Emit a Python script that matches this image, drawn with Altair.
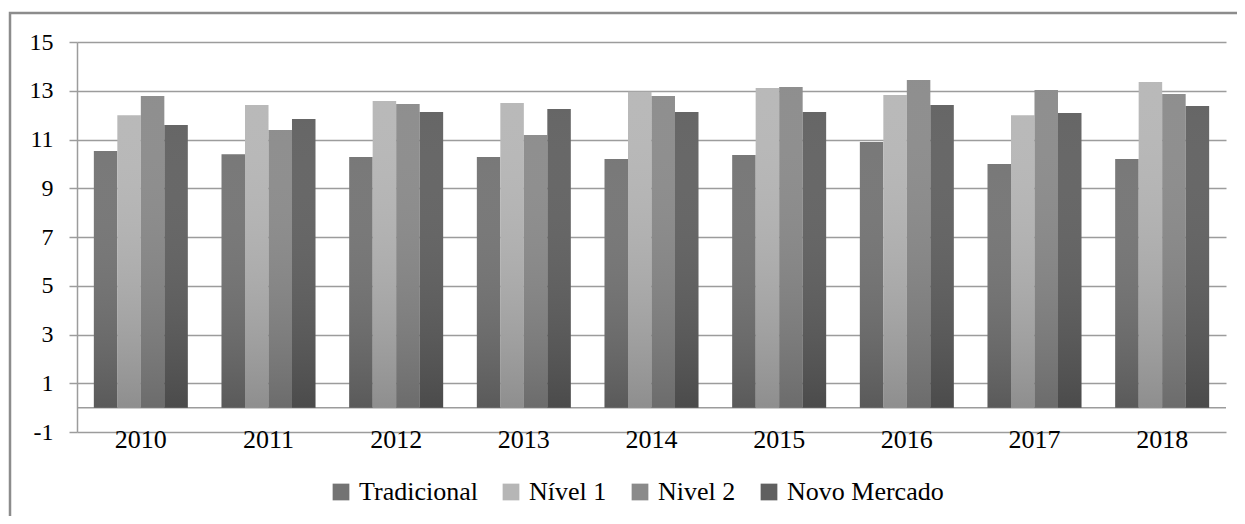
import altair as alt
import pandas as pd

years = ["2010", "2011", "2012", "2013", "2014", "2015", "2016", "2017", "2018"]
series = ["Tradicional", "Nível 1", "Nivel 2", "Novo Mercado"]
tradicional = [10.53, 10.40, 10.28, 10.28, 10.20, 10.36, 10.90, 10.00, 10.20]
nivel1 = [12.00, 12.42, 12.58, 12.50, 12.96, 13.11, 12.83, 12.00, 13.36]
nivel2 = [12.78, 11.39, 12.46, 11.18, 12.78, 13.15, 13.44, 13.03, 12.87]
novo_mercado = [11.60, 11.84, 12.13, 12.25, 12.13, 12.13, 12.42, 12.09, 12.37]
y_ticks = [-1, 1, 3, 5, 7, 9, 11, 13, 15]
colors = ["#737373", "#b6b6b6", "#8a8a8a", "#606060"]

rows = []
for name, vals in zip(series, [tradicional, nivel1, nivel2, novo_mercado]):
    for yr, v in zip(years, vals):
        rows.append({"year": yr, "series": name, "value": v})
df = pd.DataFrame(rows)

FONT = "Liberation Serif, Times New Roman, serif"
GRID = "#9c9c9c"

x_enc = alt.X(
    "year:N",
    sort=years,
    scale=alt.Scale(paddingInner=0.264, paddingOuter=0.132),
    axis=alt.Axis(
        title=None, labelAngle=0, domain=False, ticks=False, tickSize=0,
        labelPadding=7, labelBaseline="middle", labelFontSize=26,
        labelFont=FONT, labelColor="black", grid=False,
    ),
)
y_enc = alt.Y(
    "value:Q",
    scale=alt.Scale(domain=[-1, 15], nice=False, zero=False),
    axis=alt.Axis(
        title=None, values=y_ticks, tickSize=8, tickColor=GRID, tickWidth=1.5,
        labelPadding=16, labelFontSize=24, labelFont=FONT, labelColor="black",
        domainColor=GRID, domainWidth=1.5, gridColor=GRID, gridWidth=1.5,
        labelBaseline="middle", labelExpr="datum.value + ''",
    ),
)
xoff = alt.XOffset("series:N", sort=series, scale=alt.Scale(domain=series))

base = alt.Chart(df)

bars = base.mark_bar().encode(
    x=x_enc,
    y=y_enc,
    y2=alt.datum(0),
    xOffset=xoff,
    color=alt.Color(
        "series:N",
        sort=series,
        scale=alt.Scale(domain=series, range=colors),
        legend=alt.Legend(
            title=None, orient="none", legendX=251, legendY=437,
            direction="horizontal", symbolType="square", symbolSize=280,
            labelFontSize=26, labelFont=FONT, labelColor="black",
            columnPadding=20, labelOffset=5, symbolStrokeWidth=0,
        ),
    ),
)

shade = base.mark_bar(
    color=alt.Gradient(
        gradient="linear",
        stops=[
            alt.GradientStop(color="rgba(255,255,255,0.04)", offset=0),
            alt.GradientStop(color="rgba(0,0,0,0.22)", offset=1),
        ],
        x1=0, x2=0, y1=0, y2=1,
    )
).encode(
    x=alt.X("year:N", sort=years),
    y=alt.Y("value:Q"),
    y2=alt.datum(0),
    xOffset=alt.XOffset("series:N", sort=series),
)

zero = alt.Chart(pd.DataFrame({"z": [0]})).mark_rule(color=GRID, strokeWidth=1.5).encode(
    y=alt.Y("z:Q")
)

frame = alt.Chart(pd.DataFrame({"a": [0]})).mark_rect(
    fill=None, stroke="#8c8c8c", strokeWidth=2.5
).encode(
    x=alt.value(-67), x2=alt.value(1200), y=alt.value(-29), y2=alt.value(520)
)

chart = alt.layer(frame, zero, bars, shade).properties(
    width=1149,
    height=390,
    autosize=alt.AutoSizeParams(type="none"),
    padding={"left": 69, "top": 34, "right": 11, "bottom": 84},
).configure(font=FONT).configure_view(stroke=None)

chart.save("out.html", embed_options={"renderer": "svg", "actions": False})
